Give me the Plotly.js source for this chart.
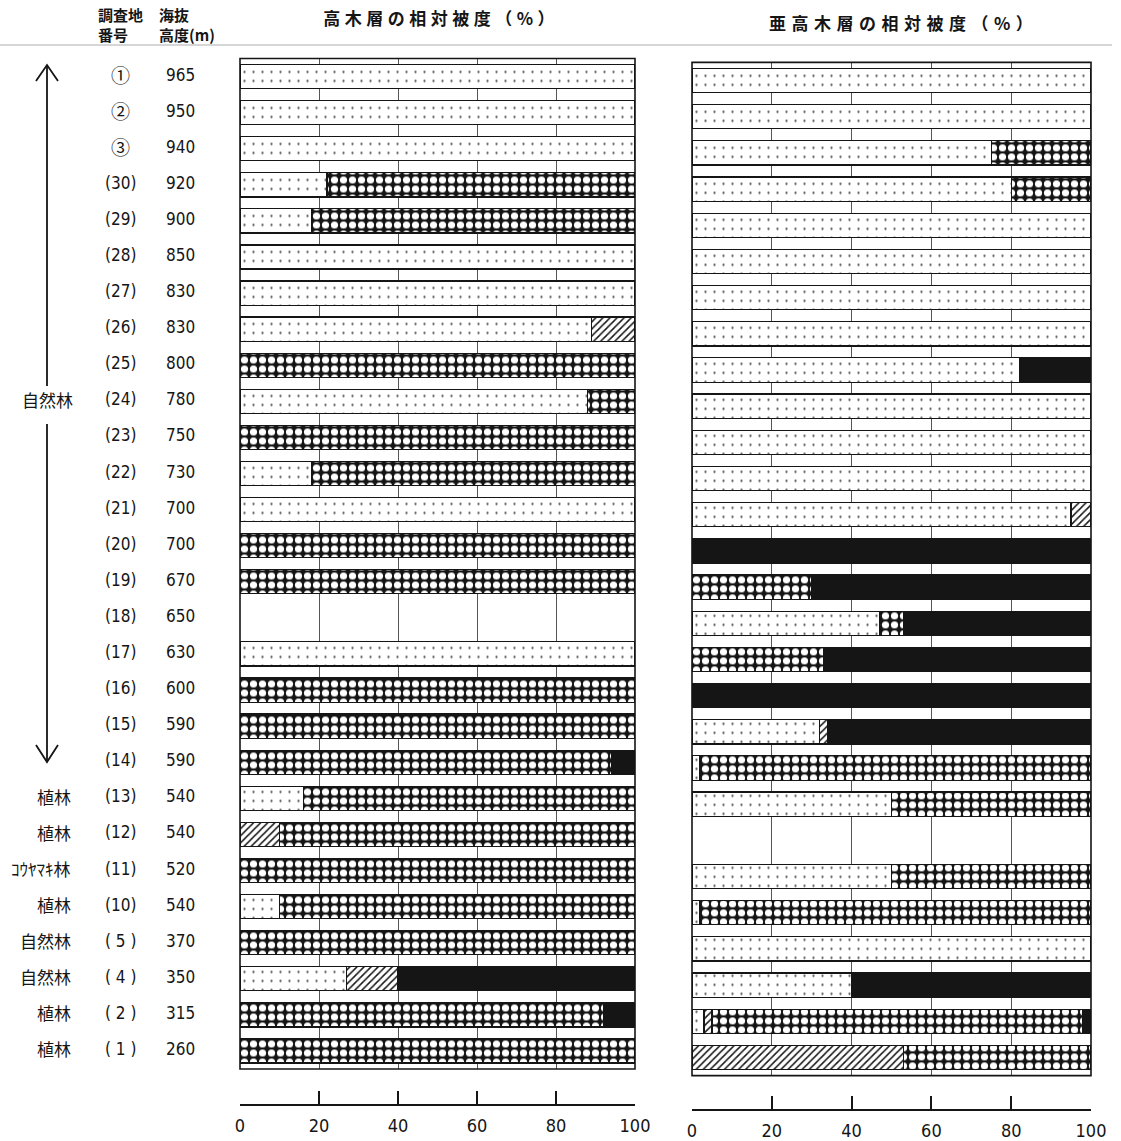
<!DOCTYPE html>
<html>
<head>
<meta charset="utf-8">
<script src="https://cdn.plot.ly/plotly-3.0.1.min.js"></script>
<style>
  html, body { margin: 0; padding: 0; background: #fff; }
  #chart { width: 1121px; height: 1141px; }
</style>
</head>
<body>
<div id="chart"></div>
<script>
// ---------------- data ----------------
const sites = ['①','②','③','(30)','(29)','(28)','(27)','(26)','(25)','(24)','(23)','(22)','(21)','(20)',
               '(19)','(18)','(17)','(16)','(15)','(14)','(13)','(12)','(11)','(10)','( 5 )','( 4 )','( 2 )','( 1 )'];
const elevations = ['965','950','940','920','900','850','830','830','800','780','750','730','700','700',
                    '670','650','630','600','590','590','540','540','520','540','370','350','315','260'];
const forestTypes = ['','','','','','','','','','','','','','',
                     '','','','','','','植林','植林','ｺｳﾔﾏｷ林','植林','自然林','自然林','植林','植林'];
const rangeLabel = '自然林';
const rangeLabelSite = '(24)';

const xTicks = [0, 20, 40, 60, 80, 100];
const xTickLabels = ['0', '20', '40', '60', '80', '100'];

const titleTree = '高木層の相対被度（%）';
const titleSub  = '亜高木層の相対被度（%）';
const headSite = '調査地<br>番号';
const headElev = '海抜<br>高度(m)';

// 高木層 (tree layer)
const treeDotted  = [100,100,100,22,18,100,100,89,null,88,null,18,100,null,null,null,100,null,null,null,16,null,null,10,null,27,null,null];
const treeHatched = [null,null,null,null,null,null,null,11,null,null,null,null,null,null,null,null,null,null,null,null,null,10,null,null,null,13,null,null];
const treeChecker = [null,null,null,78,82,null,null,null,100,12,100,82,null,100,100,null,null,100,100,94,84,90,100,90,100,null,92,100];
const treeSolid   = [null,null,null,null,null,null,null,null,null,null,null,null,null,null,null,null,null,null,null,6,null,null,null,null,null,60,8,null];

// 亜高木層 (sub-tree layer)
const subDotted  = [100,100,75,80,100,100,100,100,82,100,100,100,95,null,null,47,null,null,32,2,50,null,50,2,100,40,3,null];
const subHatched = [null,null,null,null,null,null,null,null,null,null,null,null,5,null,null,null,null,null,2,null,null,null,null,null,null,null,2,53];
const subChecker = [null,null,25,20,null,null,null,null,null,null,null,null,null,null,30,6,33,null,null,98,50,null,50,98,null,null,93,47];
const subSolid   = [null,null,null,null,null,null,null,null,18,null,null,null,null,100,70,47,67,100,66,null,null,null,null,null,null,60,2,null];

// ---------------- styles ----------------
const W = 1121, H = 1141;
const X = p => p / W;
const Y = p => 1 - p / H;
const ink = '#151515';
const outline = { color: ink, width: 1.2 };

const styles = {
  dotted:  { color: '#ffffff', line: outline, pattern: { shape: '.', fgcolor: '#555', bgcolor: '#ffffff', size: 9, solidity: 0.05, fillmode: 'replace' } },
  hatched: { color: '#ffffff', line: outline, pattern: { shape: '/', fgcolor: ink, bgcolor: '#ffffff', size: 5, solidity: 0.3, fillmode: 'replace' } },
  checker: { color: ink, line: outline, pattern: { shape: '.', fgcolor: '#ffffff', bgcolor: ink, size: 9, solidity: 0.5, fillmode: 'replace' } },
  solid:   { color: ink, line: outline }
};

function mk(vals, style, xa, ya) {
  return { type: 'bar', orientation: 'h', x: vals, y: sites, xaxis: xa, yaxis: ya,
           marker: style, showlegend: false, hoverinfo: 'skip' };
}

const traces = [
  mk(treeDotted, styles.dotted, 'x', 'y'),
  mk(treeHatched, styles.hatched, 'x', 'y'),
  mk(treeChecker, styles.checker, 'x', 'y'),
  mk(treeSolid, styles.solid, 'x', 'y'),
  mk(subDotted, styles.dotted, 'x2', 'y2'),
  mk(subHatched, styles.hatched, 'x2', 'y2'),
  mk(subChecker, styles.checker, 'x2', 'y2'),
  mk(subSolid, styles.solid, 'x2', 'y2')
];

const numFont = { family: 'Liberation Sans Narrow, DejaVu Sans Condensed, Noto Sans CJK JP, sans-serif', size: 17, color: ink };
const circFont = { family: 'Noto Sans CJK JP, sans-serif', size: 19, color: ink };
const cjkFont = { family: 'Noto Sans CJK JP, sans-serif', size: 17, color: ink };

function xAxis(domain, pos) {
  return {
    domain: domain, range: [0, 100], anchor: 'free', position: pos,
    showline: true, linecolor: ink, linewidth: 2,
    ticks: 'inside', ticklen: 13, tickwidth: 2, tickcolor: ink,
    tickvals: xTicks, ticktext: xTickLabels, tickfont: { ...numFont, size: 18 }, ticklabelstandoff: 4,
    showgrid: true, gridcolor: '#555', gridwidth: 1, zeroline: false, fixedrange: true
  };
}
function yAxis(domain, anchor) {
  return {
    domain: domain, type: 'category', categoryorder: 'array', categoryarray: sites,
    autorange: 'reversed', showticklabels: false, showgrid: false, ticks: '',
    showline: false, zeroline: false, anchor: anchor, fixedrange: true
  };
}

const annotations = [];
sites.forEach((s, i) => {
  annotations.push({ xref: 'paper', yref: 'y', x: X(120), y: s, text: s, showarrow: false,
                     xanchor: 'center', yanchor: 'middle', yshift: 2,
                     font: s.startsWith('(') ? numFont : circFont });
  annotations.push({ xref: 'paper', yref: 'y', x: X(180), y: s, text: elevations[i], showarrow: false,
                     xanchor: 'center', yanchor: 'middle', yshift: 2, font: numFont });
  if (forestTypes[i]) {
    annotations.push({ xref: 'paper', yref: 'y', x: X(73), y: s, text: forestTypes[i], showarrow: false,
                       xanchor: 'right', yanchor: 'middle', yshift: 2, font: cjkFont });
  }
});
annotations.push({ xref: 'paper', yref: 'y', x: X(48), y: rangeLabelSite, text: rangeLabel, showarrow: false,
                   xanchor: 'center', yanchor: 'middle', yshift: 2, font: cjkFont });

const headFont = { family: 'Noto Sans CJK JP, sans-serif', size: 15, color: ink, weight: 'bold' };
annotations.push({ xref: 'paper', yref: 'paper', x: X(96), y: Y(24), text: headSite, showarrow: false,
                   xanchor: 'left', yanchor: 'middle', align: 'left', font: headFont });
annotations.push({ xref: 'paper', yref: 'paper', x: X(157), y: Y(24), text: headElev, showarrow: false,
                   xanchor: 'left', yanchor: 'middle', align: 'left', font: headFont });

const titleFont = { family: 'Noto Sans CJK JP, sans-serif', size: 17, color: ink, weight: 'bold' };
annotations.push({ xref: 'paper', yref: 'paper', x: X(441), y: Y(18), text: titleTree, showarrow: false,
                   xanchor: 'center', yanchor: 'middle', font: titleFont });
annotations.push({ xref: 'paper', yref: 'paper', x: X(903), y: Y(22), text: titleSub, showarrow: false,
                   xanchor: 'center', yanchor: 'middle', font: titleFont });

const arrowLine = { color: ink, width: 1.8 };
const shapes = [
  // panel frames
  { type: 'rect', xref: 'x domain', yref: 'y domain', x0: 0, x1: 1, y0: 0, y1: 1, line: { color: ink, width: 1.6 } },
  { type: 'rect', xref: 'x2 domain', yref: 'y2 domain', x0: 0, x1: 1, y0: 0, y1: 1, line: { color: ink, width: 1.6 } },
  // faint header rule
  { type: 'line', xref: 'paper', yref: 'paper', x0: X(0), x1: X(1112), y0: Y(45), y1: Y(45), line: { color: '#d6d6d6', width: 2 } },
  // range arrow (自然林)
  { type: 'line', xref: 'paper', yref: 'paper', x0: X(47), x1: X(47), y0: Y(66), y1: Y(386), line: arrowLine },
  { type: 'path', xref: 'paper', yref: 'paper',
    path: `M ${X(36)} ${Y(81)} L ${X(47)} ${Y(65)} L ${X(58)} ${Y(81)}`, line: arrowLine },
  { type: 'line', xref: 'paper', yref: 'paper', x0: X(47), x1: X(47), y0: Y(424), y1: Y(761), line: arrowLine },
  { type: 'path', xref: 'paper', yref: 'paper',
    path: `M ${X(36)} ${Y(745)} L ${X(47)} ${Y(762)} L ${X(58)} ${Y(745)}`, line: arrowLine }
];

const layout = {
  width: W, height: H,
  margin: { l: 0, r: 0, t: 0, b: 0 },
  paper_bgcolor: '#ffffff', plot_bgcolor: '#ffffff',
  barmode: 'stack', bargap: 0.33,
  showlegend: false,
  xaxis:  xAxis([X(240), X(635)], Y(1105)),
  yaxis:  yAxis([Y(1069), Y(58.5)], 'x'),
  xaxis2: xAxis([X(692), X(1091)], Y(1110)),
  yaxis2: yAxis([Y(1075.6), Y(62.4)], 'x2'),
  annotations: annotations,
  shapes: shapes
};

Plotly.newPlot('chart', traces, layout, { staticPlot: true, displayModeBar: false }).then(gd => {
  // spread the title characters like the original
  gd.querySelectorAll('.annotation-text').forEach(t => {
    if (t.textContent === titleTree) t.style.letterSpacing = '4.5px';
    if (t.textContent === titleSub) t.style.letterSpacing = '5.5px';
  });
});
</script>
</body>
</html>
